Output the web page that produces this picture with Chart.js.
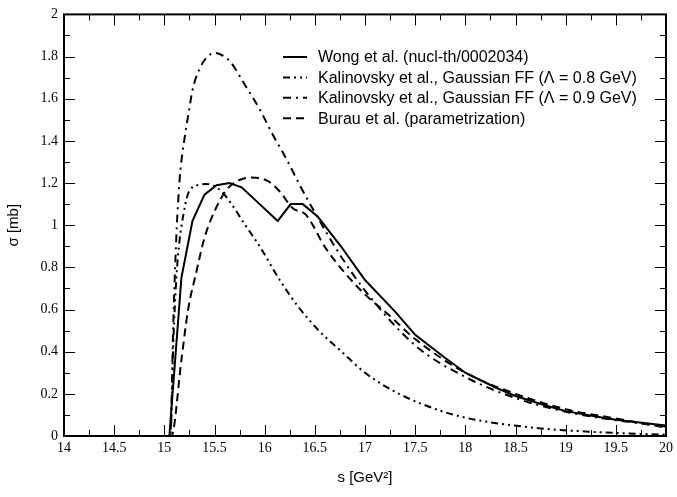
<!DOCTYPE html>
<html>
<head>
<meta charset="utf-8">
<script src="https://cdn.jsdelivr.net/npm/chart.js@4.4.1/dist/chart.umd.min.js"></script>
<style>
  html, body { margin: 0; padding: 0; background: #fff; }
  #wrap { width: 677px; height: 497px; }
</style>
</head>
<body>
<div id="wrap"><canvas id="chart" width="677" height="497"></canvas></div>
<script>
// s [GeV^2] and sigma [mb]
const sWong     = [14, 15.05, 15.17, 15.28, 15.40, 15.52, 15.65, 15.77, 15.95, 16.13, 16.26, 16.38, 16.53, 16.76, 17.0, 17.3, 17.5, 17.8, 18.0, 18.3, 18.5, 18.8, 19.0, 19.3, 19.5, 19.8, 20.0];
const sigmaWong = [0, 0, 0.75, 1.02, 1.145, 1.19, 1.20, 1.18, 1.10, 1.02, 1.10, 1.10, 1.04, 0.90, 0.74, 0.59, 0.48, 0.37, 0.30, 0.23, 0.19, 0.145, 0.118, 0.092, 0.077, 0.06, 0.05];

const sKal08     = [14, 15.06, 15.09, 15.12, 15.15, 15.19, 15.23, 15.28, 15.33, 15.40, 15.48, 15.57, 15.67, 15.80, 15.95, 16.15, 16.34, 16.54, 16.79, 17.0, 17.34, 17.75, 18.0, 18.25, 18.75, 19.25, 19.75, 20.0];
const sigmaKal08 = [0, 0, 0.45, 0.75, 0.92, 1.05, 1.14, 1.18, 1.19, 1.195, 1.19, 1.16, 1.10, 1.005, 0.90, 0.74, 0.61, 0.50, 0.39, 0.30, 0.20, 0.12, 0.087, 0.065, 0.036, 0.02, 0.01, 0.006];

const sKal09     = [14, 15.06, 15.09, 15.12, 15.14, 15.16, 15.18, 15.21, 15.245, 15.28, 15.35, 15.42, 15.50, 15.58, 15.65, 15.81, 15.95, 16.08, 16.21, 16.35, 16.5, 16.75, 17.0, 17.5, 18.0, 18.5, 19.0, 19.5, 20.0];
const sigmaKal09 = [0, 0, 0.55, 0.95, 1.13, 1.26, 1.34, 1.44, 1.54, 1.64, 1.74, 1.795, 1.817, 1.805, 1.78, 1.66, 1.55, 1.43, 1.32, 1.19, 1.06, 0.86, 0.69, 0.43, 0.28, 0.18, 0.115, 0.075, 0.045];

const sBurau     = [14, 15.07, 15.17, 15.235, 15.32, 15.40, 15.50, 15.62, 15.73, 15.87, 16.03, 16.15, 16.28, 16.41, 16.61, 16.94, 17.27, 17.5, 18.0, 18.5, 19.0, 19.5, 20.0];
const sigmaBurau = [0, 0, 0.36, 0.594, 0.78, 0.94, 1.066, 1.168, 1.21, 1.226, 1.21, 1.16, 1.08, 1.05, 0.89, 0.70, 0.56, 0.46, 0.30, 0.20, 0.127, 0.083, 0.04];

const seriesLabels = [
    'Wong et al. (nucl-th/0002034)',
    'Kalinovsky et al., Gaussian FF (\u039B = 0.8 GeV)',
    'Kalinovsky et al., Gaussian FF (\u039B = 0.9 GeV)',
    'Burau et al. (parametrization)'
];

const xTickLabels = ['14', '14.5', '15', '15.5', '16', '16.5', '17', '17.5', '18', '18.5', '19', '19.5', '20'];
const yTickLabels = ['0', '0.2', '0.4', '0.6', '0.8', '1', '1.2', '1.4', '1.6', '1.8', '2'];

const toPoints = (xs, ys) => xs.map((x, i) => ({ x: x, y: ys[i] }));

// inward major/minor ticks on all four sides + frame
const frameTicks = {
    id: 'frameTicks',
    afterDatasetsDraw(chart) {
        const { ctx, chartArea: a, scales: { x, y } } = chart;
        ctx.save();
        ctx.strokeStyle = '#000';
        ctx.lineWidth = 1;
        ctx.beginPath();
        const major = 11, minor = 6;
        x.ticks.forEach((t, i) => {
            const px = Math.round(x.getPixelForValue(t.value)) + 0.5;
            ctx.moveTo(px, a.bottom); ctx.lineTo(px, a.bottom - major);
            ctx.moveTo(px, a.top); ctx.lineTo(px, a.top + major);
            if (i < x.ticks.length - 1) {
                const mx = Math.round(x.getPixelForValue((t.value + x.ticks[i + 1].value) / 2)) + 0.5;
                ctx.moveTo(mx, a.bottom); ctx.lineTo(mx, a.bottom - minor);
                ctx.moveTo(mx, a.top); ctx.lineTo(mx, a.top + minor);
            }
        });
        y.ticks.forEach((t, i) => {
            const py = Math.round(y.getPixelForValue(t.value)) + 0.5;
            ctx.moveTo(a.left, py); ctx.lineTo(a.left + major, py);
            ctx.moveTo(a.right, py); ctx.lineTo(a.right - major, py);
            if (i < y.ticks.length - 1) {
                const my = Math.round(y.getPixelForValue((t.value + y.ticks[i + 1].value) / 2)) + 0.5;
                ctx.moveTo(a.left, my); ctx.lineTo(a.left + minor, my);
                ctx.moveTo(a.right, my); ctx.lineTo(a.right - minor, my);
            }
        });
        ctx.stroke();
        ctx.lineWidth = 2;
        ctx.strokeRect(a.left, a.top, a.right - a.left, a.bottom - a.top);
        ctx.restore();
    }
};

// legend drawn inside the plot, top right
const insideLegend = {
    id: 'insideLegend',
    afterDraw(chart) {
        const { ctx } = chart;
        ctx.save();
        ctx.font = '16px "Liberation Sans", Arial, sans-serif';
        ctx.fillStyle = '#000';
        ctx.textBaseline = 'middle';
        chart.data.datasets.forEach((ds, i) => {
            const yy = 57 + i * 20.4;
            ctx.strokeStyle = '#000';
            ctx.lineWidth = ds.borderWidth;
            ctx.setLineDash(ds.borderDash || []);
            ctx.beginPath();
            ctx.moveTo(283, yy);
            ctx.lineTo(307, yy);
            ctx.stroke();
            ctx.setLineDash([]);
            ctx.fillText(ds.label, 318, yy + 1);
        });
        ctx.restore();
    }
};

const ctx = document.getElementById('chart').getContext('2d');
new Chart(ctx, {
    type: 'line',
    data: {
        datasets: [
            {
                label: seriesLabels[0],
                data: toPoints(sWong, sigmaWong),
                borderColor: '#000',
                borderWidth: 2,
                tension: 0
            },
            {
                label: seriesLabels[1],
                data: toPoints(sKal08, sigmaKal08),
                borderColor: '#000',
                borderWidth: 2,
                borderDash: [7, 4, 2, 4, 2, 4],
                cubicInterpolationMode: 'monotone'
            },
            {
                label: seriesLabels[2],
                data: toPoints(sKal09, sigmaKal09),
                borderColor: '#000',
                borderWidth: 2,
                borderDash: [8, 5, 2, 5],
                cubicInterpolationMode: 'monotone'
            },
            {
                label: seriesLabels[3],
                data: toPoints(sBurau, sigmaBurau),
                borderColor: '#000',
                borderWidth: 2,
                borderDash: [8, 5],
                cubicInterpolationMode: 'monotone'
            }
        ]
    },
    options: {
        responsive: false,
        animation: false,
        devicePixelRatio: 1,
        elements: { point: { radius: 0 } },
        layout: { padding: { top: 12, right: 9, left: 0, bottom: 0 } },
        plugins: {
            legend: { display: false },
            tooltip: { enabled: false }
        },
        scales: {
            x: {
                type: 'linear',
                min: 14,
                max: 20,
                afterFit: s => { s.height = 61; },
                grid: { display: false, drawTicks: false },
                border: { display: false },
                ticks: {
                    stepSize: 0.5,
                    padding: 4,
                    color: '#000',
                    maxRotation: 0,
                    font: { family: '"Liberation Serif", "Times New Roman", serif', size: 14 },
                    callback: (v, i) => xTickLabels[i]
                },
                title: {
                    display: true,
                    text: 's [GeV\u00B2]',
                    color: '#000',
                    padding: { bottom: 10 },
                    font: { family: '"Liberation Sans", Arial, sans-serif', size: 15 }
                }
            },
            y: {
                type: 'linear',
                min: 0,
                max: 2,
                afterFit: s => { s.width = 64; },
                grid: { display: false, drawTicks: false },
                border: { display: false },
                ticks: {
                    stepSize: 0.2,
                    padding: 6,
                    color: '#000',
                    font: { family: '"Liberation Serif", "Times New Roman", serif', size: 14 },
                    callback: (v, i) => yTickLabels[i]
                },
                title: {
                    display: true,
                    text: '\u03C3 [mb]',
                    color: '#000',
                    padding: { top: 5 },
                    font: { family: '"Liberation Sans", Arial, sans-serif', size: 15 }
                }
            }
        }
    },
    plugins: [frameTicks, insideLegend]
});
</script>
</body>
</html>
